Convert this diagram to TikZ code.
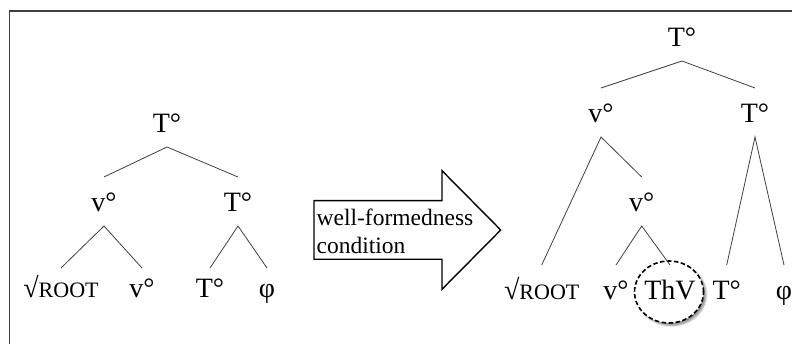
\documentclass[tikz,border=0pt]{standalone}
\usepackage{fontspec}
\setmainfont{Liberation Serif}
\usetikzlibrary{shapes.geometric,shadows.blur}
\newcommand\sqrtroot{\char"221A{\fontsize{22}{22}\selectfont ROOT}}
\begin{document}
\begin{tikzpicture}[x=1pt,y=-1pt,
  lab/.style={font=\fontsize{28}{28}\selectfont, inner sep=0pt, outer sep=0pt,
              anchor=base, text height=35pt, text depth=14pt},
  lowleaf/.style={lab, text height=30pt},
  branch/.style={draw=black!75, line width=0.8pt},
  frameline/.style={draw=black!75, line width=1.8pt},
  arrowbody/.style={draw=black, fill=white, line width=1.4pt, line join=miter},
  arrowtext/.style={font=\fontsize{23.5}{27}\selectfont, inner sep=0pt, anchor=base west},
  ring/.style={ellipse, draw=black, fill=white, line width=1.6pt,
               dash pattern=on 4.5pt off 2.5pt, minimum width=69pt, minimum height=62pt,
               blur shadow={shadow xshift=2.5pt, shadow yshift=-2.5pt,
                            shadow blur steps=6, shadow opacity=45}}
]
\useasboundingbox (0,0) rectangle (792,344);

% frame
\draw[frameline] (792,11) -- (9.5,11) -- (9.5,344);

% left tree
\node[lab] (lroot) at (167,133) {T°};
\node[lab] (lv)    at (104,212) {v°};
\node[lab] (lt)    at (238,212) {T°};
\node[lowleaf] (lrt)  at (61,298)  {\sqrtroot};
\node[lowleaf] (lvl)  at (142,298) {v°};
\node[lowleaf] (ltl)  at (210,298) {T°};
\node[lowleaf] (lphi) at (267,298) {φ};
\draw[branch] (lv.north) -- (lroot.south) -- (lt.north);
\draw[branch] (lrt.north) -- (lv.south) -- (lvl.north);
\draw[branch] (ltl.north) -- (lt.south) -- (lphi.north);

% block arrow
\draw[arrowbody] (314,200.7) -- (442,200.7) -- (442,170.7) -- (500.7,230)
  -- (442,289.3) -- (442,259.3) -- (314,259.3) -- cycle;
\node[arrowtext] (wf)   at (316.5,226) {well-formedness};
\node[arrowtext] (cond) at (316.5,253.3) {condition};

% right tree
\node[ring] (thvring) at (669,292) {};
\node[lab] (rroot) at (682,47)    {T°};
\node[lab] (rv)    at (601,123)   {v°};
\node[lab] (rt)    at (755,123)   {T°};
\node[lab] (rv2)   at (641.7,212) {v°};
\node[lab] (rrt)   at (541.7,300) {\sqrtroot};
\node[lab] (rvl)   at (616,300)   {v°};
\node[lab] (thv)   at (670,300)   {ThV};
\node[lab] (rtl)   at (726.7,300) {T°};
\node[lab] (rphi)  at (784,300)   {φ};
\draw[branch] (rv.north) -- (rroot.south) -- (rt.north);
\draw[branch] (rrt.north) -- (rv.south) -- (rv2.north);
\draw[branch] (rvl.north) -- (rv2.south) -- (thv.north);
\draw[branch] (rtl.north) -- (rt.south) -- (rphi.north);
\end{tikzpicture}
\end{document}
